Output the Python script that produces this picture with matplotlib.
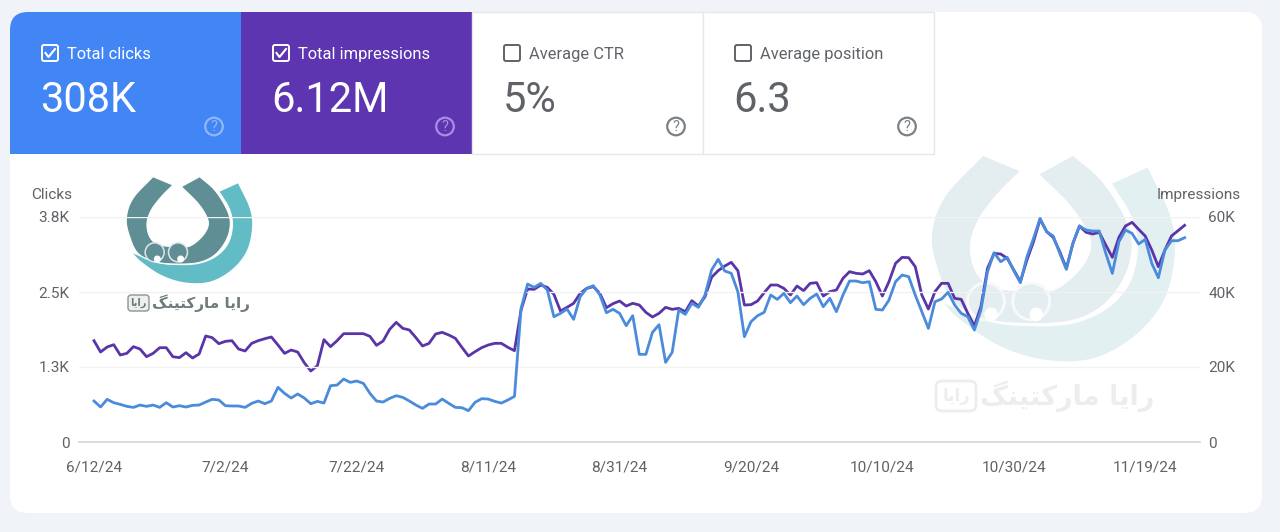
import numpy as np
import pandas as pd
import matplotlib
matplotlib.use("Agg")
import matplotlib.pyplot as plt
import matplotlib.dates as mdates
from matplotlib.patches import FancyBboxPatch, Polygon, Circle, Rectangle

plt.rcParams['font.family'] = ['Roboto', 'DejaVu Sans']

START_DATE = "2024-06-12"
clicks = [683,583,711,655,627,594,577,616,594,616,577,655,583,605,583,611,616,666,711,700,
 605,600,600,577,644,683,638,683,911,811,733,800,733,638,677,649,938,949,1049,994,
 1016,977,811,683,666,727,772,744,683,616,561,633,633,716,644,577,572,522,661,722,
 716,677,649,700,761,
 2227,2633,2577,2644,2533,2088,2144,2216,2044,2422,2561,2605,2450,2155,2211,2144,1938,2105,1461,1461,
 1827,1955,1327,1494,2200,2127,2311,2244,2450,2866,3044,2850,2811,2505,1755,2005,2105,2161,2450,2377,
 2477,2322,2433,2288,2394,2466,2255,2394,2172,2450,2683,
 2683,2655,2672,2211,2200,2366,2672,2783,2755,2450,2172,1894,2338,2383,2494,2283,2144,2088,1866,2200,
 2838,3155,3005,3077,2855,2655,3088,3394,3727,3505,3433,3144,2877,3311,3600,3533,3516,3516,3144,2811,
 3338,3533,3477,3300,3377,2977,2738,3200,3355,3355,3405]
impressions = [27020,24000,25330,25950,23200,23640,25420,24800,22750,23640,25150,25150,22750,22490,23820,22400,23470,28270,27820,26220,
 26840,27020,24800,24270,26310,27020,27550,28000,25870,23640,24530,24000,21150,18930,20350,27290,25420,27020,28890,28890,
 28890,28890,28180,25780,26930,30040,31910,30310,29870,27820,25600,26310,28800,29240,28530,27640,25240,22930,24090,25150,
 25870,26310,26310,25240,24350,
 35200,40800,40710,41860,41240,39380,34930,35910,36980,39640,40980,41420,39640,35820,36890,37600,36260,36980,36530,34580,
 33330,34310,35910,35380,35640,34750,37690,36260,38750,43910,45690,46930,47910,45690,36530,36620,37600,39820,41860,41860,
 40980,39200,41600,40350,42310,42490,38930,40090,40530,43640,45420,
 44980,44800,45690,42750,38930,42750,47640,49240,49150,46750,39200,35460,40090,42310,42310,38310,38040,34310,30930,36090,
 46310,50310,50130,48980,45870,42750,48530,53420,59380,56090,54580,50750,46310,52980,57600,55910,55470,55910,52530,49240,
 54580,57600,58580,56710,54930,51200,46750,51200,54930,56350,57780]
dates = pd.date_range(START_DATE, periods=len(clicks), freq="D")

click_ticks = [0, 1250, 2500, 3750]
click_labels = ["0", "1.3K", "2.5K", "3.8K"]
imp_ticks = [0, 20000, 40000, 60000]
imp_labels = ["0", "20K", "40K", "60K"]
date_ticks = pd.date_range(START_DATE, periods=9, freq="20D")
date_labels = ["6/12/24", "7/2/24", "7/22/24", "8/11/24", "8/31/24", "9/20/24", "10/10/24", "10/30/24", "11/19/24"]

tile_titles = ["Total clicks", "Total impressions", "Average CTR", "Average position"]
tile_values = ["308K", "6.12M", "5%", "6.3"]
tile_colors = ["#4285f4", "#5e35b1", "white", "white"]
logo_text = "\ufb93\ufee8\ufef4\ufe98\ufb90\ufead\ufe8e\ufee3 \ufe8e\ufef3\ufe8d\ufead"
box_text = "\ufe8e\ufef3\ufe8d\ufead"

W, H = 1280, 532
GRAY = "#5f6368"
FS = 11.1
fig = plt.figure(figsize=(W/100, H/100), dpi=100, facecolor="#f0f4f9")

bg = fig.add_axes([0, 0, 1, 1], zorder=0)
bg.set_xlim(0, W); bg.set_ylim(H, 0); bg.axis("off")
card = FancyBboxPatch((10, 12), 1252, 501, boxstyle="round,pad=0,rounding_size=18",
                      fc="white", ec="none", zorder=0)
bg.add_patch(card)

for i, (t, v, c) in enumerate(zip(tile_titles, tile_values, tile_colors)):
    x0 = 10 + 231*i
    filled = c != "white"
    r = Rectangle((x0, 12), 231, 142, fc=c, ec="none" if filled else "#e6e7e9", lw=1, zorder=1)
    bg.add_patch(r)
    if filled:
        r.set_clip_path(card)
    fg = "white" if filled else GRAY
    bg.add_patch(FancyBboxPatch((x0+32, 45), 16, 16, boxstyle="round,pad=0,rounding_size=2",
                                fc="none", ec=fg, lw=1.4, zorder=2))
    if filled:
        bg.plot([x0+35.5, x0+38.5, x0+45], [53, 57, 49], color=fg, lw=1.5, zorder=3)
    bg.text(x0+57, 54.2, t, color=fg, fontsize=11.85, va="center", ha="left", zorder=3)
    bg.text(x0+30.5, 101, v, color=fg, fontsize=30, va="center", ha="left", zorder=3)
    qc = {"#4285f4": "#8fb8f8", "#5e35b1": "#a88ee0", "white": "#7b8084"}[c]
    bg.add_patch(Circle((x0+204, 126.5), 8.8, fc="none", ec=qc, lw=1.6, zorder=3))
    bg.text(x0+204, 127, "?", color=qc, fontsize=10.5, ha="center", va="center", zorder=3)


def spline(pts, n=12):
    """Catmull-Rom curve through the listed outline points."""
    p = np.array(pts, float)
    p = np.vstack([2*p[0]-p[1], p, 2*p[-1]-p[-2]])
    out = []
    for k in range(1, len(p)-2):
        for t in np.linspace(0, 1, n, endpoint=False):
            a, b, c, d = p[k-1], p[k], p[k+1], p[k+2]
            out.append(0.5*(2*b + (c-a)*t + (2*a-5*b+4*c-d)*t**2 + (3*b-a-3*c+d)*t**3))
    out.append(p[-2])
    return out

DARK_INNER = [(225,60),(190,95),(160,135),(147,175),(155,215),(180,238),(225,245),(270,245),
              (305,222),(328,190),(328,160),(300,115),(250,65)]
DARK_OUTER = [(305,35),(350,75),(385,130),(397,175),(385,225),(350,270),(300,293),(230,297),
              (170,290),(120,265),(95,215),(85,160),(105,100),(165,35)]
LIGHT_OUTER = [(420,55),(455,130),(462,190),(445,260),(400,315),(335,350),(260,352),(190,330),(130,290),(105,265)]
LIGHT_INNER = [(105,265),(170,292),(230,300),(300,297),(355,275),(392,235),(405,180),(395,130),(365,80)]


def logo(ox, oy, s, dark, light, ring, z):
    tr = lambda p: [(ox + px*s/3, oy + py*s/3) for px, py in p]
    bg.add_patch(Polygon(tr(spline(LIGHT_OUTER) + spline(LIGHT_INNER)), closed=True, fc=light, ec="none", zorder=z))
    bg.add_patch(Polygon(tr(spline(DARK_INNER) + spline(DARK_OUTER)), closed=True, fc=dark, ec="white",
                         lw=0.8*s, joinstyle="round", zorder=z))
    for cx in (170, 240):
        (x, y), = tr([(cx, 262)])
        bg.add_patch(Circle((x, y), 9.5*s, fc=dark, ec=ring, lw=1.1*s, zorder=z+0.1))
        (x2, y2), = tr([(cx+8, 282)])
        bg.add_patch(Circle((x2, y2), 3.5*s, fc="white", ec="none", zorder=z+0.2))

logo(98, 165, 1.0, "#5f8e94", "#62bcc6", "#dfe6e8", 1)
logo(876, 132, 1.94, "#e4edef", "#e2f0f2", "#f7f9fa", 1)

bg.text(201, 303, logo_text, family="DejaVu Sans", fontsize=11, fontweight="bold", color="#6f7a7c",
        ha="center", va="center", zorder=2)
bg.add_patch(FancyBboxPatch((128, 295), 21, 16, boxstyle="round,pad=0,rounding_size=3",
                            fc="#eef0f0", ec="#8a9496", lw=1, zorder=2))
bg.text(138.5, 303, box_text, family="DejaVu Sans", fontsize=7, fontweight="bold", color="#6f7a7c",
        ha="center", va="center", zorder=3)
bg.text(1067, 396, logo_text, family="DejaVu Sans", fontsize=19.5, fontweight="bold", color="#eceeee",
        ha="center", va="center", zorder=2)
bg.add_patch(FancyBboxPatch((936, 381), 40, 30, boxstyle="round,pad=0,rounding_size=6",
                            fc="white", ec="#eceeee", lw=2, zorder=2))
bg.text(956, 396, box_text, family="DejaVu Sans", fontsize=12, fontweight="bold", color="#eceeee",
        ha="center", va="center", zorder=3)

L, R, T, B = 79, 1200, 217, 442
ax = fig.add_axes([L/W, 1-B/H, (R-L)/W, (B-T)/H], zorder=2)
ax.patch.set_alpha(0)
d0 = mdates.date2num(dates[0])
px_day = 6.57
ax.set_xlim(d0 - (94-L)/px_day, d0 + (R-94)/px_day)
ax.set_ylim(0, 3750)
ax.set_yticks(click_ticks)
ax.set_yticklabels(click_labels, color=GRAY, fontsize=FS)
ax.set_xticks(mdates.date2num(date_ticks))
ax.set_xticklabels(date_labels, color=GRAY, fontsize=FS)
ax.tick_params(axis="both", length=0)
ax.tick_params(axis="x", pad=13)
ax.tick_params(axis="y", pad=7)
ax.grid(axis="y", color="#f2f2f2", lw=1)
ax.set_axisbelow(True)
for s in ("top", "left", "right"):
    ax.spines[s].set_visible(False)
ax.spines["bottom"].set_color("#d4d6d8")
ax.spines["bottom"].set_linewidth(1.2)

ax2 = ax.twinx()
ax2.patch.set_alpha(0)
ax2.set_ylim(0, 60000)
ax2.set_yticks(imp_ticks)
ax2.set_yticklabels(imp_labels, color=GRAY, fontsize=FS)
ax2.tick_params(axis="y", length=0, pad=6)
for s in ax2.spines.values():
    s.set_visible(False)

ax.set_zorder(3); ax2.set_zorder(2)
ax2.plot(dates, impressions, color="#5a35a8", lw=2.0, solid_joinstyle="round", clip_on=False)
ax.plot(dates, clicks, color="#4a8bdc", lw=2.0, solid_joinstyle="round", clip_on=False)

bg.text(31, 195, "Clicks", color=GRAY, fontsize=FS, ha="left", va="center", zorder=3)
bg.text(1241, 195, "Impressions", color=GRAY, fontsize=FS, ha="right", va="center", zorder=3)

fig.savefig("out.png", dpi=100, facecolor=fig.get_facecolor())
